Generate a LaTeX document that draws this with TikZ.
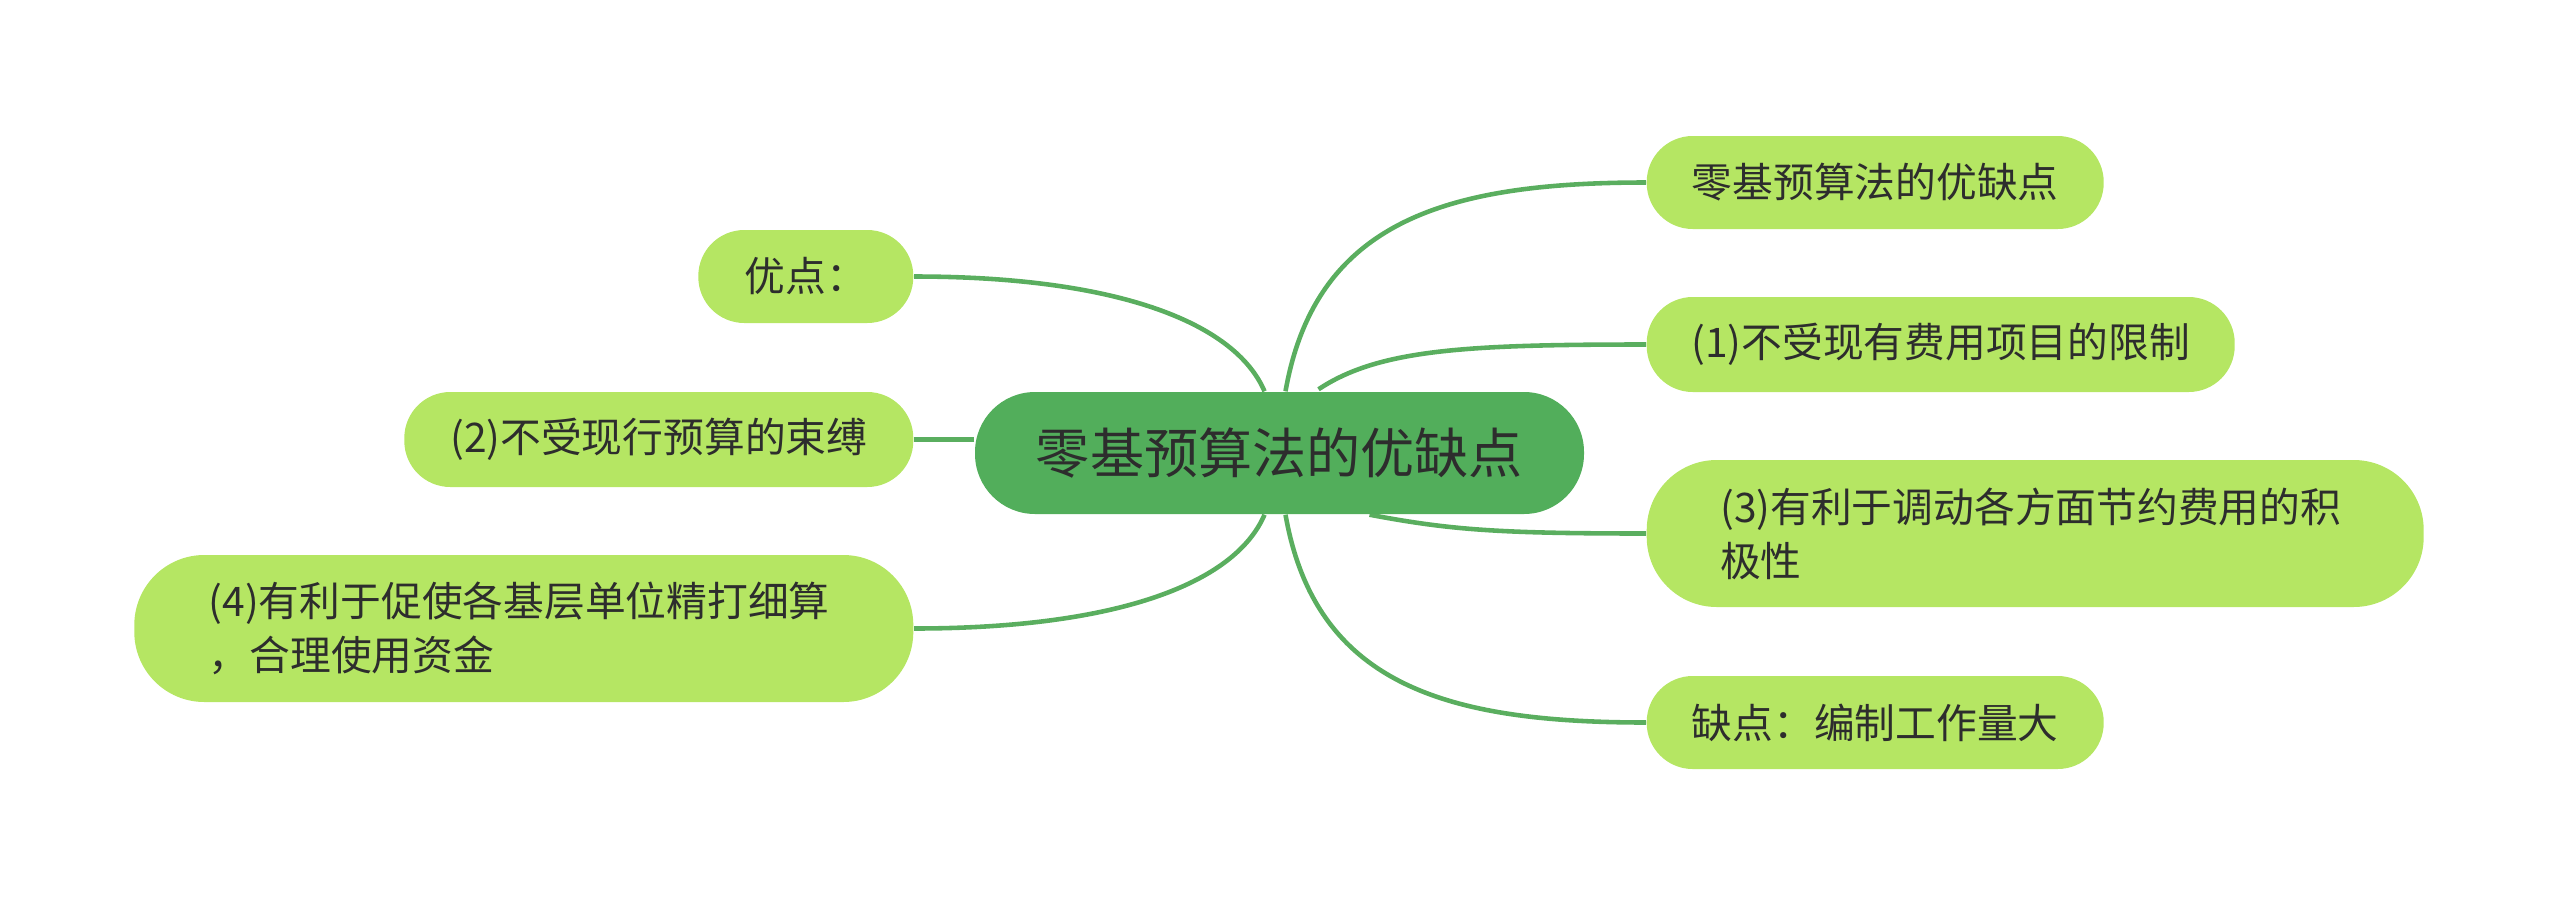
\documentclass[tikz,border=0pt]{standalone}
\usepackage{fontspec}
\usepackage{tikz}
\usetikzlibrary{calc, backgrounds}
\newfontfamily\cjk{Noto Sans CJK SC}
\definecolor{hijauPusat}{RGB}{82,174,91}
\definecolor{hijauDaun}{RGB}{181,230,99}
\definecolor{hijauGaris}{RGB}{90,174,95}
\definecolor{teksGelap}{RGB}{45,45,45}

\begin{document}
\begin{tikzpicture}[
  pusat/.style={fill=hijauPusat, text=teksGelap, rounded corners=0.6cm, minimum width=6.09cm, minimum height=1.22cm, font=\cjk\fontsize{15.4pt}{18pt}\selectfont},
  daun/.style={fill=hijauDaun, text=teksGelap, rounded corners=0.46cm, minimum height=0.93cm, inner sep=0pt, font=\cjk\fontsize{11.6pt}{15.3pt}\selectfont},
  daunK/.style={daun, anchor=west},
  daunL/.style={daun, anchor=east},
  daunT/.style={daun, rounded corners=0.7cm, minimum height=1.47cm, align=left},
  cabang/.style={draw=hijauGaris, line width=1.3pt},
]
  \useasboundingbox (0,0) rectangle (25.6,-9.06);

  \node[pusat] at (12.795,-4.53) (c) {零基预算法的优缺点};

  \node[daunK, minimum width=4.57cm] at (16.46,-1.825) (r1) {零基预算法的优缺点};
  \node[daunK, minimum width=5.88cm, minimum height=0.95cm] at (16.46,-3.445) (r2) {(1)不受现有费用项目的限制};
  \node[daunT, anchor=west, minimum width=7.77cm, text width=6.3cm] at (16.46,-5.335) (r3) {(3)有利于调动各方面节约费用的积\\极性};
  \node[daunK, minimum width=4.57cm] at (16.46,-7.225) (r4) {缺点：编制工作量大};

  \node[daunL, minimum width=2.15cm] at (9.14,-2.765) (l1) {优点：};
  \node[daunL, minimum width=5.09cm, minimum height=0.95cm] at (9.14,-4.395) (l2) {(2)不受现行预算的束缚};
  \node[daunT, anchor=east, minimum width=7.79cm, text width=6.3cm] at (9.14,-6.285) (l3) {(4)有利于促使各基层单位精打细算\\，合理使用资金};

  \begin{scope}[on background layer]
    \draw[cabang] ($(c.north)+(0.06,0)$) .. controls +(0.3,1.7) and +(-2.0,0) .. (r1.west);
    \draw[cabang] ($(c.north)+(0.39,0.02)$) .. controls +(0.6,0.4) and +(-1.8,0) .. (r2.west);
    \draw[cabang] ($(c.south)+(0.9,0)$) .. controls +(0.8,-0.15) and +(-1.5,0) .. (r3.west);
    \draw[cabang] ($(c.south)+(0.06,0)$) .. controls +(0.3,-1.7) and +(-2.0,0) .. (r4.west);
    \draw[cabang] ($(c.north)+(-0.15,0)$) .. controls +(-0.3,0.7) and +(2.0,0) .. (l1.east);
    \draw[cabang] (c.west |- l2.east) -- (l2.east);
    \draw[cabang] ($(c.south)+(-0.15,0)$) .. controls +(-0.3,-0.7) and +(2.0,0) .. (l3.east);
  \end{scope}
\end{tikzpicture}
\end{document}
